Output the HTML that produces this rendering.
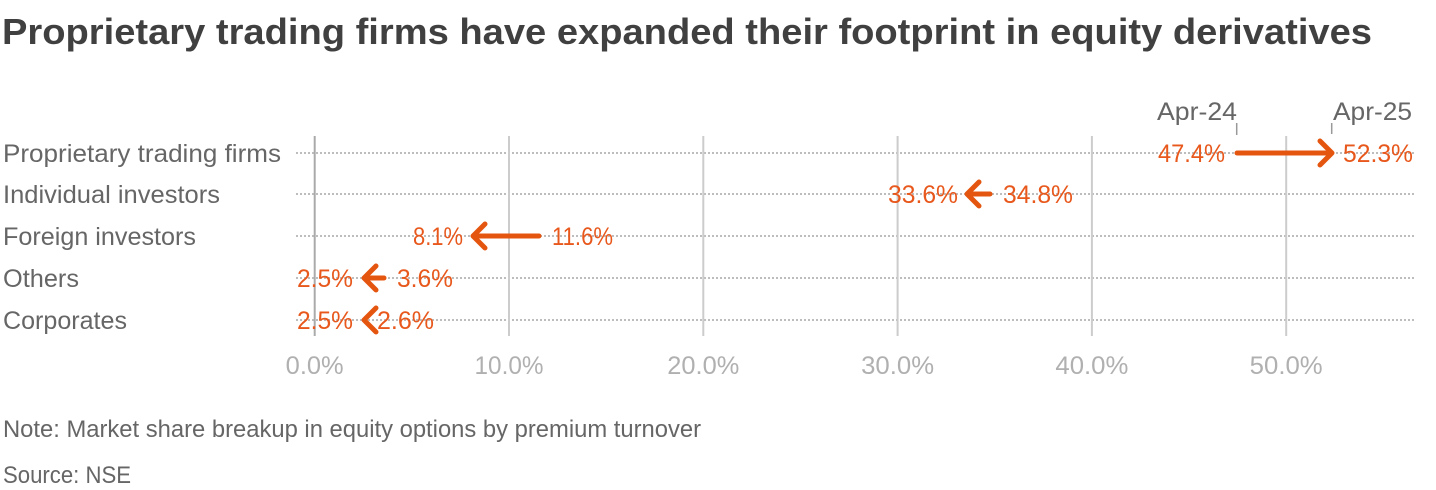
<!DOCTYPE html>
<html>
<head>
<meta charset="utf-8">
<style>
  html, body { margin: 0; padding: 0; background: #ffffff; }
  svg { display: block; }
  text { font-family: "Liberation Sans", "DejaVu Sans", sans-serif; }
</style>
</head>
<body>
<svg width="1436" height="490" viewBox="0 0 1436 490" xmlns="http://www.w3.org/2000/svg">
  <rect width="1436" height="490" fill="#ffffff"/>

  <!-- Title -->
  <text x="2" y="44" font-size="36" font-weight="bold" fill="#404040" textLength="1370" lengthAdjust="spacingAndGlyphs">Proprietary trading firms have expanded their footprint in equity derivatives</text>

  <!-- Row dotted lines -->
  <g stroke="#bdbdbd" stroke-width="2" stroke-dasharray="2,2">
    <line x1="296" y1="153" x2="1414" y2="153"/>
    <line x1="296" y1="194" x2="1414" y2="194"/>
    <line x1="296" y1="236" x2="1414" y2="236"/>
    <line x1="296" y1="278" x2="1414" y2="278"/>
    <line x1="296" y1="320" x2="1414" y2="320"/>
  </g>

  <!-- Vertical gridlines -->
  <g stroke="#cccccc" stroke-width="2">
    <line x1="509.0" y1="136" x2="509.0" y2="336"/>
    <line x1="703.3" y1="136" x2="703.3" y2="336"/>
    <line x1="897.6" y1="136" x2="897.6" y2="336"/>
    <line x1="1091.9" y1="136" x2="1091.9" y2="336"/>
    <line x1="1286.2" y1="136" x2="1286.2" y2="336"/>
  </g>
  <line x1="314.7" y1="136" x2="314.7" y2="336" stroke="#aaaaaa" stroke-width="2"/>

  <!-- Axis labels -->
  <g font-size="25" fill="#b0b0b0" text-anchor="middle">
    <text x="314.7" y="374" textLength="58" lengthAdjust="spacingAndGlyphs">0.0%</text>
    <text x="509.0" y="374" textLength="69" lengthAdjust="spacingAndGlyphs">10.0%</text>
    <text x="703.3" y="374" textLength="72" lengthAdjust="spacingAndGlyphs">20.0%</text>
    <text x="897.6" y="374" textLength="73" lengthAdjust="spacingAndGlyphs">30.0%</text>
    <text x="1091.9" y="374" textLength="73" lengthAdjust="spacingAndGlyphs">40.0%</text>
    <text x="1286.2" y="374" textLength="73" lengthAdjust="spacingAndGlyphs">50.0%</text>
  </g>

  <!-- Category labels -->
  <g font-size="25" fill="#666666">
    <text x="3" y="162" textLength="278" lengthAdjust="spacingAndGlyphs">Proprietary trading firms</text>
    <text x="3" y="203" textLength="217" lengthAdjust="spacingAndGlyphs">Individual investors</text>
    <text x="3" y="245" textLength="193" lengthAdjust="spacingAndGlyphs">Foreign investors</text>
    <text x="3" y="287" textLength="76" lengthAdjust="spacingAndGlyphs">Others</text>
    <text x="3" y="329" textLength="124" lengthAdjust="spacingAndGlyphs">Corporates</text>
  </g>

  <!-- Apr annotations -->
  <g font-size="25" fill="#666666">
    <text x="1157" y="120" textLength="80" lengthAdjust="spacingAndGlyphs">Apr-24</text>
    <text x="1333" y="120" textLength="79" lengthAdjust="spacingAndGlyphs">Apr-25</text>
  </g>
  <g stroke="#999999" stroke-width="1.5">
    <line x1="1236.7" y1="123" x2="1236.7" y2="135"/>
    <line x1="1331.7" y1="123" x2="1331.7" y2="134"/>
  </g>

  <!-- Arrows -->
  <g stroke="#e4550f" stroke-width="5" fill="none" stroke-linecap="round" stroke-linejoin="round">
    <line x1="1237" y1="153" x2="1330" y2="153"/>
    <path d="M1320,141 L1332,153 L1320,165"/>
    <line x1="990" y1="194" x2="970" y2="194"/>
    <path d="M979,182 L967,194 L979,206"/>
    <line x1="539" y1="236" x2="475" y2="236"/>
    <path d="M485,224 L473,236 L485,248"/>
    <line x1="384" y1="278" x2="366" y2="278"/>
    <path d="M376,266 L364,278 L376,290"/>
    <path d="M376,308 L364,320 L376,332"/>
  </g>

  <!-- Value labels -->
  <g font-size="25" fill="#e8581c">
    <text x="1158" y="162" textLength="67" lengthAdjust="spacingAndGlyphs">47.4%</text>
    <text x="1343" y="162" textLength="70" lengthAdjust="spacingAndGlyphs">52.3%</text>
    <text x="888" y="203" textLength="70" lengthAdjust="spacingAndGlyphs">33.6%</text>
    <text x="1003" y="203" textLength="70" lengthAdjust="spacingAndGlyphs">34.8%</text>
    <text x="413" y="245" textLength="50" lengthAdjust="spacingAndGlyphs">8.1%</text>
    <text x="552" y="245" textLength="61" lengthAdjust="spacingAndGlyphs">11.6%</text>
    <text x="297" y="287" textLength="56" lengthAdjust="spacingAndGlyphs">2.5%</text>
    <text x="397" y="287" textLength="56" lengthAdjust="spacingAndGlyphs">3.6%</text>
    <text x="297" y="329" textLength="56" lengthAdjust="spacingAndGlyphs">2.5%</text>
    <text x="377" y="329" textLength="57" lengthAdjust="spacingAndGlyphs">2.6%</text>
  </g>

  <!-- Footnotes -->
  <g font-size="24" fill="#666666">
    <text x="3" y="437" textLength="698" lengthAdjust="spacingAndGlyphs">Note: Market share breakup in equity options by premium turnover</text>
    <text x="3" y="483" textLength="128" lengthAdjust="spacingAndGlyphs">Source: NSE</text>
  </g>
</svg>
</body>
</html>
